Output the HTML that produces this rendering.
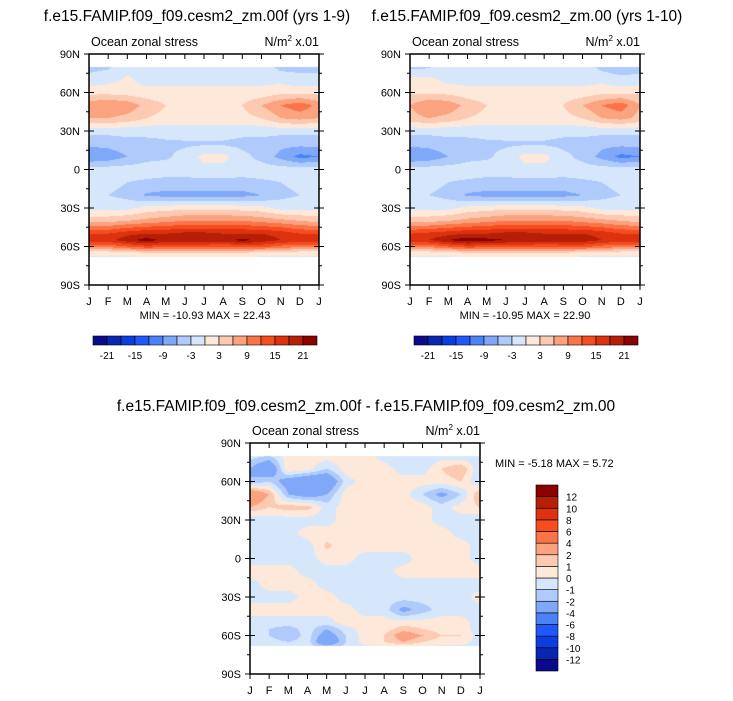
<!DOCTYPE html>
<html><head><meta charset="utf-8"><style>
body{margin:0;background:#fff;width:733px;height:701px;position:relative;overflow:hidden;font-family:"Liberation Sans",sans-serif}
canvas{position:absolute}
svg{position:absolute;left:0;top:0}
</style></head><body>
<canvas id="c1" width="230" height="231" style="left:89px;top:54px"></canvas>
<canvas id="c2" width="230" height="231" style="left:410px;top:54px"></canvas>
<canvas id="c3" width="230" height="231" style="left:250px;top:443px"></canvas>
<svg id="ov" width="733" height="701"></svg>
<script>
const months=["J","F","M","A","M","J","J","A","S","O","N","D","J"];
const lats=[80,70,60,50,40,30,20,10,0,-10,-20,-30,-40,-50,-55,-60,-65,-70];
const latLabels=["90N","60N","30N","0","30S","60S","90S"];
const fieldA=[
[-4,-3.5,-1,-1,-1,-1,-1,-1,-1,-1,-4,-4,-4],
[-2,-1,0.5,-1,-1,-1,-1,-1,-1,-1,-1,-2,-2],
[2,2,1.5,1,1,1,1,1,1,1,2,2,2],
[8,9,8,5,3,2,2,2,3,6,9,11,8],
[6,6,5,3,2,1.5,1.5,1.5,2,3,6,7,6],
[-2,-2,-2,-2,-2,-1.5,-1.5,-1.5,-2,-2,-2,-2,-2],
[-5,-5,-4,-4,-3.5,-3.5,-3.5,-3.5,-4,-4,-5,-5,-5],
[-9,-8,-6,-4,-3.5,-2,1,1,-2,-4,-7,-10,-9],
[-1.5,-1.5,-1.5,-1.5,-1.5,-1.5,-1,-1,-1.5,-1.5,-1.5,-1.5,-1.5],
[-2,-2,-3,-3.5,-4,-4,-4,-4,-4,-3.5,-3,-2,-2],
[-3,-3,-4,-6.5,-7,-7,-7,-7,-7,-6,-4,-3,-3],
[-1,-1,-1,1,1.5,2,2,2,1.5,1,-1,-1,-1],
[5,5,6,7,8,9,9,9,9,8,7,6,5],
[15,15,17,18,18,19,19,18,18,18,17,15,15],
[17,17,20,22.5,20,21,20,20,22,20,18,17,17],
[10,10,12,14,13,13,13,12,13,13,11,10,10],
[1,1,1,3,3,3,3,3,3,1,1,1,1],
[-1,-1,-1,-1,-1,-1,-1,-1,-1,-1,-1,-1,-1]];
const fieldB=[
[-4,-3.5,-1,-1,-1,-1,-1,-1,-1,-1,-4,-5,-4],
[1,1,-1,-1,-1,-1,-1,-1,-1,-1,-1,-2,-2],
[2.5,2.5,2,1,1,1,1,1,1,1,2,2,2.5],
[6,9,8,5,3,2,2,2,3,6,9,11,6],
[5,6,5,3,2,1.5,1.5,1.5,2,3,6,7,5],
[-2,-2,-2,-2,-2,-1.5,-1.5,-1.5,-2,-2,-2,-2,-2],
[-5,-5,-4,-4,-3.5,-3.5,-3.5,-3.5,-4,-4,-5,-5,-5],
[-9,-8,-6,-4,-3.5,-2,1,1,-2,-4,-7,-10,-9],
[-1.5,-1.5,-1.5,-1.5,-1.5,-1.5,-1,-1,-1.5,-1.5,-1.5,-1.5,-1.5],
[-2,-2,-3,-3.5,-4,-4,-4,-4,-4,-3.5,-3,-2,-2],
[-3,-3,-4,-6.5,-7,-7,-7,-7,-7,-6,-4,-3,-3],
[-1,-1,-1,1,1.5,2,2,2,1.5,1,-1,-1,-1],
[5,5,6,7,8,9,9,9,9,8,7,6,5],
[15,16,17,18,18,19,19,18,18,18,17,15,15],
[17,18,21,22.9,22,21,21,20,20,20,18,17,17],
[10,10,12,14,13,13,13,12,13,13,11,10,10],
[1,1,1,3,3,3,3,3,3,1,1,1,1],
[-1,-1,-1,-1,-1,-1,-1,-1,-1,-1,-1,-1,-1]];
const fieldD=[
[-0.5,-1,0.5,0.5,0.5,0.5,0.5,-0.5,-1,-1,-0.5,-1,-0.5],
[-2,-4,1,0.5,-1,0.5,0.5,0.5,-0.5,-0.5,1,2,-1],
[-2,-1,-3,-4,-4,-0.5,0.5,0.5,0.5,0.5,0.5,1,-1],
[4,2,-2,-3,-2,0.5,0.5,0.5,0.5,-1,-2.5,-1,2],
[2,1,1.5,1.5,-0.5,0.5,0.5,0.5,0.5,0.5,-0.5,0.5,1],
[-1,-0.5,-0.5,-0.5,-0.5,0.5,0.5,0.5,0.5,0.5,-0.5,-0.5,-1],
[-0.5,-0.5,-0.5,0.5,0.5,0.5,0.5,0.5,0.5,0.5,0.5,-0.5,-0.5],
[-0.5,-0.5,-0.5,-0.5,1.2,0.5,0.5,0.5,0.5,0.5,0.5,0.5,-0.5],
[-0.5,-0.5,-0.5,-0.5,0.5,0.5,-0.5,-0.5,-0.5,0.5,0.5,0.5,-0.5],
[0.5,0.5,0.5,-0.5,-0.5,-0.5,-0.5,-0.5,0.5,0.5,0.5,0.5,0.5],
[-0.5,0.5,0.5,0.5,-0.5,-0.5,-0.5,-0.5,-0.5,-0.5,-0.5,-0.5,-0.5],
[-0.5,-0.5,-0.5,0.5,0.5,-0.5,-0.5,-0.5,-0.5,-0.5,-0.5,-0.5,0.5],
[0.5,0.5,0.5,0.5,0.5,0.5,-0.5,-0.5,-2.5,-1.5,-0.5,-0.5,-0.5],
[-0.5,-0.5,-0.5,-0.5,-0.5,0.5,0.5,0.5,0.5,0.5,0.5,0.5,-0.5],
[-0.5,-1,-1.5,-0.5,-2,-0.5,0.5,0.5,1.5,1,0.5,0.5,-0.5],
[-0.5,-1,-2,-0.5,-3,-1,0.5,1,3,2,1,1,-0.5],
[-0.5,-0.5,-1,-0.5,-4,-1,0.5,1,2,1,0.5,0.5,-0.5],
[-0.5,-0.5,-0.5,-0.5,-0.5,-0.5,-0.5,-0.5,-0.5,-0.5,-0.5,-0.5,-0.5]];
const levelsTop=[-21,-18,-15,-12,-9,-6,-3,0,3,6,9,12,15,18,21];
const levelsDiff=[-12,-10,-8,-6,-4,-2,-1,0,1,2,4,6,8,10,12];
const colors=["#0b0a8c","#0726b2","#0a3ee0","#2158fb","#4a82fa","#7fa9f8","#b0cbfb","#d6e7fb","#fde8d9","#fcc9b1","#fba27f","#f97548","#f54c20","#dc3210","#b61f05","#8b0000"];

function hex(c){return [parseInt(c.substr(1,2),16),parseInt(c.substr(3,2),16),parseInt(c.substr(5,2),16)];}
const rgb=colors.map(hex);
function colorIdx(v,lev){let i=0;while(i<lev.length&&v>=lev[i])i++;return i;}
function sample(f,lat,t){
  let r=0;while(r<lats.length-2&&lat<lats[r+1])r++;
  let fr=(lats[r]-lat)/(lats[r]-lats[r+1]);fr=Math.max(0,Math.min(1,fr));
  let c=Math.min(11,Math.floor(t));let fc=t-c;
  const a=f[r][c]*(1-fc)+f[r][c+1]*fc, b=f[r+1][c]*(1-fc)+f[r+1][c+1]*fc;
  return a*(1-fr)+b*fr;
}
function drawField(id,f,lev,south){
  const cv=document.getElementById(id),ctx=cv.getContext('2d');
  const W=cv.width,H=cv.height,img=ctx.createImageData(W,H);
  for(let y=0;y<H;y++){const lat=90-(y+0.5)/H*180;
    for(let x=0;x<W;x++){const k=(y*W+x)*4;
      let col=[255,255,255];
      const t=(x+0.5)/W*12;
      if(lat<=80&&lat>=south){col=rgb[colorIdx(sample(f,lat,t),lev)];}
      img.data[k]=col[0];img.data[k+1]=col[1];img.data[k+2]=col[2];img.data[k+3]=255;}}
  ctx.putImageData(img,0,0);
}
drawField('c1',fieldA,levelsTop,-68);
drawField('c2',fieldB,levelsTop,-68);
drawField('c3',fieldD,levelsDiff,-68);

const NS="http://www.w3.org/2000/svg",ov=document.getElementById('ov');
function el(tag,attrs,txt){const e=document.createElementNS(NS,tag);for(const k in attrs)e.setAttribute(k,attrs[k]);if(txt!==undefined)e.textContent=txt;ov.appendChild(e);return e;}
function txt(x,y,s,size,anchor,name){const e=el('text',{x:x,y:y,'font-size':size,'text-anchor':anchor||'middle','font-family':'Liberation Sans, sans-serif',fill:'#000'},s);

return e;}
function frame(x0,y0,name){
  const W=230,H=231;
  const xs=t=>x0+t/12*W, ys=l=>y0+(90-l)/180*H;
  const g=el('rect',{x:x0,y:y0,width:W,height:H,fill:'none',stroke:'#000','stroke-width':1.5});
  
  
  for(let i=0;i<13;i++){const x=xs(i);
    el('line',{x1:x,y1:y0+H,x2:x,y2:y0+H+5,stroke:'#000'});
    el('line',{x1:x,y1:y0,x2:x,y2:y0+5,stroke:'#000'});
    txt(x,y0+H+20,months[i],11,'middle',name+'-month-label');}
  for(let l=90;l>=-90;l-=15){const y=ys(l),maj=l%30===0,len=maj?5:3;
    el('line',{x1:x0-len,y1:y,x2:x0+(maj?5:0),y2:y,stroke:'#000'});
    el('line',{x1:x0+W-(maj?5:0),y1:y,x2:x0+W+len,y2:y,stroke:'#000'});}
  latLabels.forEach((s,i)=>txt(x0-9,ys(90-30*i)+4,s,11,'end',name+'-lat-label'));
  txt(x0+2,y0-8,"Ocean zonal stress",12.5,'start',name+'-subtitle');
  const u=txt(x0+W,y0-8,"",12.5,'end',name+'-units');
  u.innerHTML='N/m<tspan dy="-5" font-size="8">2</tspan><tspan dy="5"> x.01</tspan>';
}
frame(89,54,'panel-00f');frame(410,54,'panel-00');frame(250,443,'panel-diff');
txt(197,21,"f.e15.FAMIP.f09_f09.cesm2_zm.00f (yrs 1-9)",15.5,'middle','title-00f');
txt(527,21,"f.e15.FAMIP.f09_f09.cesm2_zm.00 (yrs 1-10)",15.5,'middle','title-00');
txt(366,411,"f.e15.FAMIP.f09_f09.cesm2_zm.00f - f.e15.FAMIP.f09_f09.cesm2_zm.00",15.5,'middle','title-diff');
txt(205,319,"MIN = -10.93 MAX =  22.43",11,'middle','minmax-00f');
txt(525,319,"MIN = -10.95 MAX =  22.90",11,'middle','minmax-00');
txt(495,467,"MIN =  -5.18 MAX =  5.72",11,'start','minmax-diff');
function hbar(x0,y0,name){
  for(let i=0;i<16;i++){const r=el('rect',{x:x0+i*14,y:y0,width:14,height:9,fill:colors[i],stroke:'#000','stroke-width':0.6});
    
    }
  levelsTop.forEach((v,k)=>{if(k%2===0)txt(x0+(k+1)*14,y0+23,String(v),10,'middle',name+'-label');});
}
hbar(93,336,'colorbar-00f');hbar(414,336,'colorbar-00');
const bh=186/16;
for(let i=0;i<16;i++){const r=el('rect',{x:536,y:485+(15-i)*bh,width:22,height:bh,fill:colors[i],stroke:'#000','stroke-width':0.6});
  
  }
levelsDiff.forEach((v,k)=>txt(566,485+(15-k)*bh+4,String(v),10,'start','colorbar-diff-label'));
</script>
</body></html>
